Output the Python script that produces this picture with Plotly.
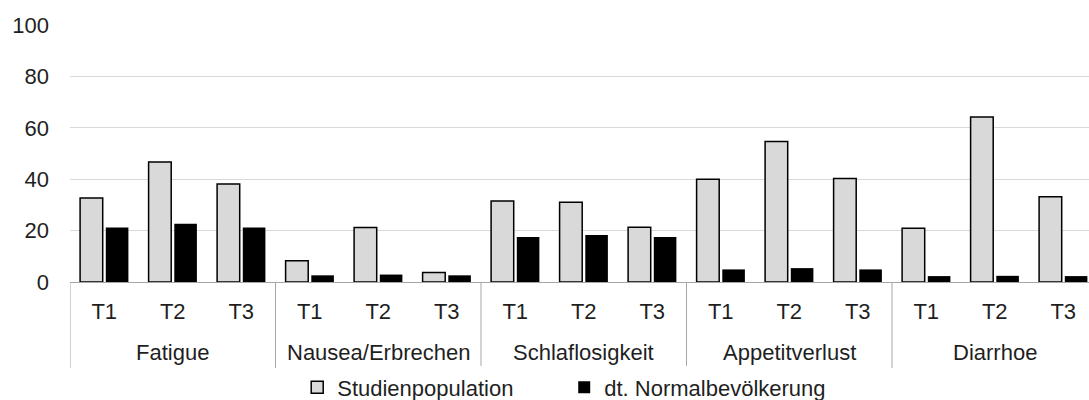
import plotly.graph_objects as go

# Symptom scales (EORTC), each measured at three time points
symptoms = ["Fatigue", "Nausea/Erbrechen", "Schlaflosigkeit", "Appetitverlust", "Diarrhoe"]
timepoints = ["T1", "T2", "T3"]

# Mean scores per symptom and time point (T1, T2, T3 in order)
studienpopulation = [32.7, 46.7, 38.1,
                     8.3, 21.2, 3.7,
                     31.5, 31.0, 21.3,
                     40.0, 54.7, 40.3,
                     20.9, 64.2, 33.2]
normalbevoelkerung = [21.2, 22.7, 21.2,
                      2.6, 2.9, 2.6,
                      17.5, 18.3, 17.5,
                      4.9, 5.4, 4.9,
                      2.3, 2.4, 2.3]

y_ticks = [0, 20, 40, 60, 80, 100]

# One unique category per (symptom, time point); the axis shows only the time point
categories = [f"{s} {t}" for s in symptoms for t in timepoints]
tick_text = [t for _ in symptoms for t in timepoints]
n_t = len(timepoints)

FONT = "Liberation Sans, Arial, sans-serif"
TEXT = "#1f1f1f"
AXIS = "#a6a6a6"
SIZE = 22

fig = go.Figure()
fig.add_trace(go.Bar(
    name="Studienpopulation",
    x=categories,
    y=studienpopulation,
    marker=dict(color="#d9d9d9", line=dict(color="#000000", width=1.5)),
))
fig.add_trace(go.Bar(
    name="dt. Normalbevölkerung",
    x=categories,
    y=normalbevoelkerung,
    marker=dict(color="#000000", line=dict(color="#000000", width=0)),
))

# Symptom group labels (centred under the middle time point) and group dividers
for i, s in enumerate(symptoms):
    fig.add_annotation(
        x=categories[i * n_t + n_t // 2], y=-0.276,
        xref="x", yref="paper",
        text=s, showarrow=False,
        xanchor="center", yanchor="middle",
        font=dict(family=FONT, size=SIZE, color=TEXT),
    )
for i in range(len(symptoms) + 1):
    fig.add_shape(
        type="line",
        x0=i * n_t - 0.5, x1=i * n_t - 0.5,
        y0=0, y1=-0.335,
        xref="x", yref="paper",
        line=dict(color=AXIS, width=1),
    )

fig.update_layout(
    width=1089,
    height=400,
    margin=dict(l=70, r=0, t=25, b=118, autoexpand=False),
    paper_bgcolor="white",
    plot_bgcolor="white",
    font=dict(family=FONT, size=SIZE, color=TEXT),
    barmode="group",
    bargap=0.25,
    bargroupgap=0.12,
    showlegend=True,
    legend=dict(
        orientation="h",
        x=0.485,
        xanchor="center",
        y=-0.41,
        yanchor="middle",
        font=dict(family=FONT, size=SIZE, color=TEXT),
        itemwidth=30,
        entrywidth=222,
        traceorder="normal",
    ),
)

fig.update_xaxes(
    type="category",
    categoryorder="array",
    categoryarray=categories,
    tickvals=categories,
    ticktext=tick_text,
    range=[-0.5, 14.376],
    showline=True,
    linecolor=AXIS,
    linewidth=1,
    showgrid=False,
    ticks="",
    tickangle=0,
    ticklabelstandoff=10,
    tickfont=dict(family=FONT, size=SIZE, color=TEXT),
)
fig.update_yaxes(
    range=[0, 100],
    tickvals=y_ticks,
    showgrid=True,
    gridcolor="#d9d9d9",
    gridwidth=1,
    zeroline=False,
    showline=False,
    ticks="",
    ticklabelstandoff=20,
    tickfont=dict(family=FONT, size=SIZE, color=TEXT),
)

fig.write_html("out.html")
